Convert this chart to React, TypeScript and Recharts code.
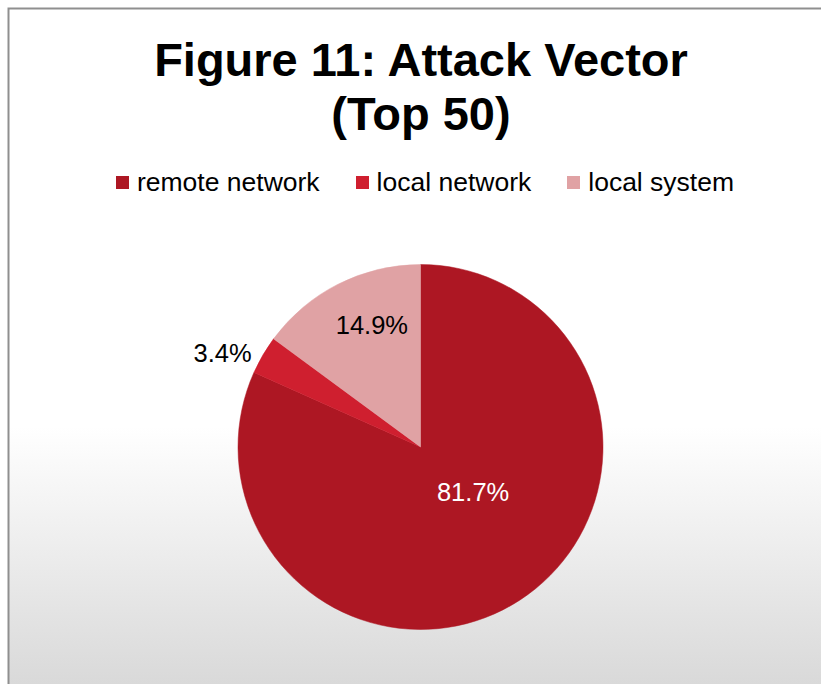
import { Pie, PieChart, Cell, Legend } from 'recharts';

const CATEGORIES = ['remote network', 'local network', 'local system'];
const SHARES = [81.7, 3.4, 14.9];
const LABELS = ['81.7%', '3.4%', '14.9%'];

const COLORS = ['#AD1723', '#CF1F2F', '#E0A2A4'];
const LABEL_COLORS = ['#ffffff', '#000000', '#000000'];
// label placement, relative to the slice's mid angle and outer radius
const LABEL_RADIUS = [0.38, 1.2, 0.72];
const LABEL_ANGLE_SHIFT = [16.4, 4.9, -5.1];

const FONT = '"Liberation Sans", Arial, sans-serif';
const RAD = Math.PI / 180;

const data = CATEGORIES.map((name, i) => ({ name, value: SHARES[i], label: LABELS[i] }));

function renderLabel(props: any) {
  const { cx, cy, midAngle, outerRadius, index } = props;
  const a = (midAngle + LABEL_ANGLE_SHIFT[index]) * RAD;
  const r = outerRadius * LABEL_RADIUS[index];
  const x = cx + r * Math.cos(a);
  const y = cy - r * Math.sin(a);
  return (
    <text
      x={x}
      y={y}
      fill={LABEL_COLORS[index]}
      textAnchor="middle"
      dominantBaseline="central"
      style={{ fontFamily: FONT, fontSize: 25.5 }}
    >
      {data[index].label}
    </text>
  );
}

function LegendContent() {
  return (
    <div style={{ display: 'flex', justifyContent: 'center', alignItems: 'center', fontFamily: FONT, fontSize: 26.5, color: '#000' }}>
      {data.map((d, i) => (
        <div key={d.name} style={{ display: 'flex', alignItems: 'center', marginLeft: i === 0 ? 0 : 36 }}>
          <span style={{ display: 'inline-block', width: 13, height: 13, background: COLORS[i], marginRight: 8 }} />
          <span style={{ lineHeight: '30px' }}>{d.name}</span>
        </div>
      ))}
    </div>
  );
}

export default function App() {
  return (
    <div style={{ position: 'fixed', left: 0, top: 0, width: 821, height: 684, background: '#fff', overflow: 'hidden' }}>
      <svg width={821} height={684} style={{ position: 'absolute', left: 0, top: 0 }}>
        <defs>
          <linearGradient id="bg" x1="0" y1="0" x2="0" y2="1">
            <stop offset="0.62" stopColor="#ffffff" />
            <stop offset="1" stopColor="#d9d9d9" />
          </linearGradient>
        </defs>
        <rect x={8} y={8} width={813} height={676} fill="url(#bg)" />
        <path d="M8.5 684 V8.5 H821" fill="none" stroke="#8f8f8f" strokeWidth={2} />
        <text x={421} y={76} textAnchor="middle" style={{ fontFamily: FONT, fontSize: 47, fontWeight: 'bold' }}>
          Figure 11: Attack Vector
        </text>
        <text x={421} y={130} textAnchor="middle" style={{ fontFamily: FONT, fontSize: 47, fontWeight: 'bold' }}>
          (Top 50)
        </text>
      </svg>
      <div style={{ position: 'absolute', left: 0, top: 0, width: 821, height: 684, overflow: 'hidden' }}>
        <PieChart width={821} height={684} margin={{ top: 0, right: 0, bottom: 0, left: 0 }}>
          <Legend
            content={<LegendContent />}
            verticalAlign="top"
            wrapperStyle={{ top: 167, left: 30, width: 790 }}
          />
          <Pie
            data={data}
            dataKey="value"
            nameKey="name"
            cx={420.5}
            cy={417}
            outerRadius={182.5}
            startAngle={90}
            endAngle={-270}
            label={renderLabel}
            labelLine={false}
            isAnimationActive={false}
          >
            {data.map((d, i) => (
              <Cell key={d.name} fill={COLORS[i]} stroke={COLORS[i]} strokeWidth={0.5} />
            ))}
          </Pie>
        </PieChart>
      </div>
    </div>
  );
}
